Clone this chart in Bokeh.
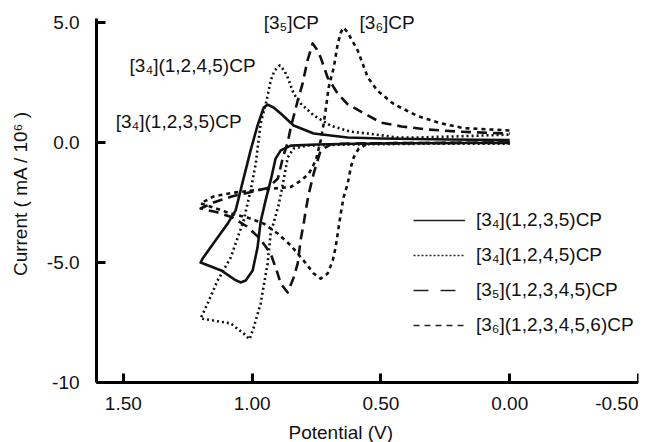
import math
from bokeh.plotting import figure
from bokeh.models import (Range1d, FixedTicker, PrintfTickFormatter, Label,
                          Legend, LegendItem, LinearAxis)
from bokeh.embed import file_html
from bokeh.resources import INLINE

FONT = "Liberation Sans"
FS = "19px"
INK = "#111111"

# ---------------- data (potential in V, current in mA/10^6) ----------------
# [3_4](1,2,3,5)CP  (forward sweep to 1.2 V, then back)
a_v = [0.0, 0.2, 0.4, 0.6, 0.75, 0.85, 0.889, 0.909, 0.928, 0.948, 0.967, 0.979,
       0.998, 1.025, 1.045, 1.07, 1.12, 1.16, 1.2,
       1.192, 1.15, 1.12, 1.095, 1.064, 1.037, 1.019, 1.006, 0.979, 0.955, 0.94,
       0.917, 0.889, 0.839, 0.761, 0.629, 0.5, 0.23, 0.0]
a_i = [-0.02, -0.02, -0.03, -0.05, -0.08, -0.13, -0.33, -0.67, -1.58, -2.42, -3.3, -4.37,
       -5.33, -5.75, -5.83, -5.7, -5.33, -5.17, -5.0,
       -4.83, -4.2, -3.75, -3.38, -2.83, -1.65, -0.89, -0.33, 0.71, 1.46, 1.58,
       1.46, 1.21, 0.71, 0.375, 0.21, 0.17, 0.125, 0.1]

# [3_4](1,2,4,5)CP
b_v = [0.0, 0.3, 0.6, 0.785, 0.839, 0.862, 0.878, 0.897, 0.928, 0.94, 0.967, 0.994,
       1.010, 1.033, 1.083, 1.15, 1.2,
       1.173, 1.134, 1.083, 1.033, 1.006, 0.986, 0.967, 0.944, 0.928, 0.913, 0.893,
       0.875, 0.862, 0.839, 0.812, 0.761, 0.695, 0.617, 0.551, 0.435, 0.357, 0.163, 0.0]
b_i = [-0.05, -0.05, -0.08, -0.125, -0.25, -0.625, -1.58, -2.6, -3.79, -5.04, -6.71, -7.71,
       -8.2, -7.96, -7.54, -7.42, -7.33,
       -6.71, -5.75, -4.79, -3.25, -2.0, -0.875, 0.79, 1.75, 2.58, 3.0, 3.21,
       3.0, 2.71, 2.04, 1.63, 1.13, 0.7, 0.45, 0.375, 0.21, 0.21, 0.27, 0.33]

# [3_5](1,2,3,4,5)CP
c_v = [0.0, 0.3, 0.5, 0.65, 0.695, 0.734, 0.761, 0.78, 0.792, 0.80, 0.812, 0.823,
       0.839, 0.862, 0.889, 0.901, 0.928, 0.97, 1.02, 1.08, 1.14, 1.2,
       1.15, 1.08, 1.0, 0.94, 0.9, 0.88, 0.862, 0.85, 0.823, 0.804, 0.785, 0.765,
       0.75, 0.734, 0.707, 0.668, 0.63, 0.551, 0.5, 0.42, 0.32, 0.19, 0.0]
c_i = [0.0, -0.02, -0.03, -0.05, -0.08, -0.33, -1.29, -2.13, -2.83, -3.38, -4.08, -5.04,
       -5.63, -6.25, -5.88, -5.46, -4.63, -4.0, -3.5, -3.1, -2.9, -2.75,
       -2.5, -2.25, -2.05, -1.9, -1.5, -0.6, 0.0, 0.63, 1.75, 2.46, 3.42, 4.13,
       3.9, 3.54, 2.71, 2.04, 1.6, 1.13, 0.83, 0.67, 0.54, 0.45, 0.37]

# [3_6](1,2,3,4,5,6)CP
d_v = [0.0, 0.3, 0.5, 0.551, 0.586, 0.606, 0.617, 0.629, 0.645, 0.656, 0.676, 0.687,
       0.707, 0.734, 0.761, 0.80, 0.85, 0.901, 0.955, 1.017, 1.083, 1.15, 1.2,
       1.15, 1.08, 1.0, 0.9, 0.85, 0.812, 0.78, 0.753, 0.734, 0.722, 0.715, 0.703,
       0.683, 0.668, 0.655, 0.645, 0.63, 0.59, 0.551, 0.513, 0.45, 0.357, 0.268,
       0.179, 0.0]
d_i = [0.0, -0.02, -0.03, -0.05, -0.25, -0.625, -1.04, -1.71, -2.29, -2.96, -4.37, -4.92,
       -5.46, -5.67, -5.46, -4.92, -4.29, -3.79, -3.38, -3.13, -2.96, -2.71, -2.54,
       -2.25, -2.1, -2.0, -1.9, -1.85, -1.6, -1.3, -0.75, 0.08, 0.8, 1.33, 2.29,
       3.13, 4.1, 4.6, 4.79, 4.6, 3.83, 2.71, 2.15, 1.6, 1.1, 0.8,
       0.6, 0.5]

series_names = ["[3\u2084](1,2,3,5)CP", "[3\u2084](1,2,4,5)CP",
                "[3\u2085](1,2,3,4,5)CP", "[3\u2086](1,2,3,4,5,6)CP"]

x_ticks = [1.5, 1.0, 0.5, 0.0, -0.5]
y_ticks = [-10, -5, 0, 5]
x_axis_span = (-0.5, 1.604)      # drawn extent of the potential axis (V)
y_axis_span = (-10, 5.167)       # drawn extent of the current axis

# peak annotations: (text, potential, current)
annotations = [("[3\u2085]CP", 0.955, 5.0),
               ("[3\u2086]CP", 0.583, 5.0),
               ("[3\u2084](1,2,4,5)CP", 1.476, 3.21),
               ("[3\u2084](1,2,3,5)CP", 1.530, 0.875)]

# ---------------- figure (frame = whole canvas, axes at fixed locations) ----
p = figure(width=646, height=442, output_backend="svg", toolbar_location=None,
           x_range=Range1d(1.977, -0.5), y_range=Range1d(-12.5, 5.917),
           x_axis_location=None, y_axis_location=None,
           min_border_left=0, min_border_right=8, min_border_top=0,
           min_border_bottom=0)
p.outline_line_color = None
p.xgrid.visible = False
p.ygrid.visible = False
p.background_fill_color = "white"
p.border_fill_color = "white"

styles = [
    dict(line_dash="solid", line_width=2.6),
    dict(line_dash="2 3", line_width=2.6),
    dict(line_dash="10 6", line_width=2.6),
    dict(line_dash="4 4", line_width=2.6),
]
legend_styles = [
    dict(line_dash="solid", line_width=1.5),
    dict(line_dash="2 2", line_width=1.5),
    dict(line_dash="15 12", line_width=1.5),
    dict(line_dash="6 5", line_width=1.5),
]

for vv, ii, st in zip([a_v, b_v, c_v, d_v], [a_i, b_i, c_i, d_i], styles):
    p.line(vv, ii, line_color="#111111", line_join="round", **st)

nan = float("nan")
items = []
for name, st in zip(series_names, legend_styles):
    r = p.line(x=[nan], y=[nan], line_color="#222222", **st)   # legend swatch only
    items.append(LegendItem(label=name, renderers=[r]))

legend = Legend(items=items, location=(413, 100), padding=0, margin=0, spacing=0,
                label_height=35, glyph_width=52, glyph_height=20, label_standoff=11,
                border_line_color=None, background_fill_alpha=0,
                label_text_font=FONT, label_text_font_size=FS,
                label_text_color=INK)
p.add_layout(legend)

# ---------------- axes ----------------
xa = LinearAxis(fixed_location=y_ticks[0], bounds=x_axis_span)
ya = LinearAxis(fixed_location=x_axis_span[1], bounds=y_axis_span)
xa.ticker = FixedTicker(ticks=x_ticks)
xa.formatter = PrintfTickFormatter(format="%.2f")
xa.major_label_overrides = {-0.5: ""}
ya.ticker = FixedTicker(ticks=y_ticks)
ya.formatter = PrintfTickFormatter(format="%.1f")
ya.major_label_overrides = {-10: "-10"}

for ax in (xa, ya):
    ax.axis_line_width = 3
    ax.axis_line_color = "#000000"
    ax.major_tick_line_width = 3
    ax.major_tick_line_color = "#000000"
    ax.major_tick_in = 9
    ax.major_tick_out = 0
    ax.minor_tick_line_color = None
    ax.major_label_text_font = FONT
    ax.major_label_text_font_size = FS
    ax.major_label_text_color = INK

xa.major_label_standoff = 14
ya.major_label_standoff = 17
p.add_layout(xa, "below")
p.add_layout(ya, "left")

# last x tick label, right-aligned so it stays inside the canvas
p.add_layout(Label(x=x_ticks[-1], y=y_ticks[0], y_offset=-14, text="-0.50",
                   text_align="right", text_baseline="top", text_font=FONT,
                   text_font_size=FS, text_color=INK))
# axis titles
p.add_layout(Label(x=0.656, y=y_ticks[0], y_offset=-50, text="Potential (V)",
                   text_align="center", text_baseline="alphabetic", text_font=FONT,
                   text_font_size=FS, text_color=INK))
p.add_layout(Label(x=1.899, y=-2.125, angle=math.pi / 2,
                   text="Current ( mA / 10\u2076 )",
                   text_align="center", text_baseline="middle", text_font=FONT,
                   text_font_size=FS, text_color=INK))

for txt, xv, yv in annotations:
    p.add_layout(Label(x=xv, y=yv, text=txt, text_align="left",
                       text_baseline="middle", text_font=FONT,
                       text_font_size=FS, text_color=INK))

open("out.html", "w").write(file_html(p, INLINE))
